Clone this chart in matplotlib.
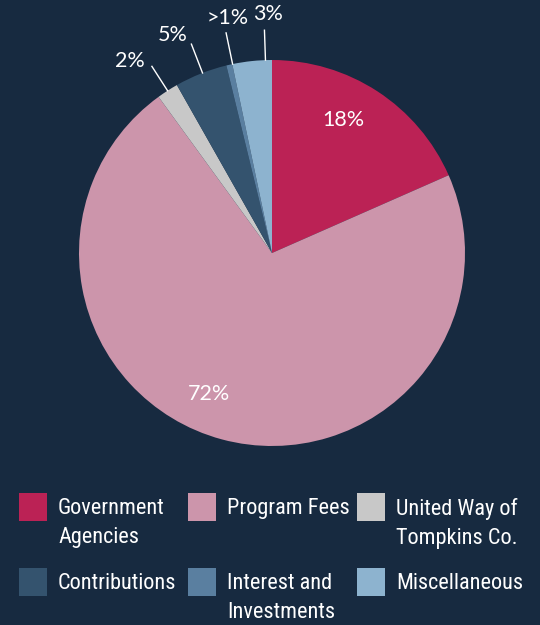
import matplotlib
matplotlib.use("Agg")
import matplotlib.pyplot as plt
from matplotlib.patches import Rectangle
import numpy as np

categories = ["Government\nAgencies", "Program Fees", "United Way of\nTompkins Co.",
              "Contributions", "Interest and\nInvestments", "Miscellaneous"]
values = [18.4, 71.6, 1.8, 4.4, 0.5, 3.3]
pct_labels = ["18%", "72%", "2%", "5%", ">1%", "3%"]
colors = ["#bb2255", "#cc95ab", "#c8c8c8", "#34536e", "#5a7fa0", "#8db3cf"]
bg = "#172a40"

plt.rcParams['font.family'] = ['Roboto Condensed', 'DejaVu Sans']
pct_font = ['Lato', 'DejaVu Sans']

W, H = 540, 625
fig = plt.figure(figsize=(W/100, H/100), dpi=100, facecolor=bg)

cx, cy, r = 272, 253, 193
ax = fig.add_axes([(cx - r)/W, 1 - (cy + r)/H, 2*r/W, 2*r/H])
ax.set_facecolor(bg)
wedges, _ = ax.pie(values, colors=colors, startangle=90, counterclock=False,
                   radius=1, wedgeprops=dict(linewidth=0))
ax.set_xlim(-1, 1); ax.set_ylim(-1, 1)
ax.set_aspect('equal')
ax.axis('off')

inner = {0: (0.78, 5), 1: (0.80, -9)}
for i, (dist, dang) in inner.items():
    w = wedges[i]
    ang = np.deg2rad((w.theta1 + w.theta2) / 2 + dang)
    ax.text(dist*np.cos(ang), dist*np.sin(ang), pct_labels[i], color="white",
            fontsize=15.5, ha="center", va="center", family=pct_font)

# outer labels: (line angle offset, line outer radius, text angle offset)
outer = {2: (0.0, 1.15, 3.7), 3: (-0.5, 1.16, 3.0), 4: (-1.0, 1.165, -2.0), 5: (-4.0, 1.155, -4.9)}
for i, (lda, lr, tda) in outer.items():
    w = wedges[i]
    mid = (w.theta1 + w.theta2) / 2
    a = np.deg2rad(mid + lda)
    ax.plot([np.cos(a), lr*np.cos(a)], [np.sin(a), lr*np.sin(a)], color="white",
            lw=1, clip_on=False)
    at = np.deg2rad(mid + tda)
    ax.text(1.24*np.cos(at), 1.24*np.sin(at), pct_labels[i], color="white",
            fontsize=15.5, ha="center", va="center", clip_on=False, family=pct_font)

col_x = [19, 188, 357]
row_y = [493, 568]
sw = 28
for i, (lab, c) in enumerate(zip(categories, colors)):
    x = col_x[i % 3]
    y = row_y[i // 3]
    fig.add_artist(Rectangle((x/W, 1 - (y + sw)/H), sw/W, sw/H, transform=fig.transFigure,
                             facecolor=c, edgecolor="none"))
    fig.text((x + 39)/W, 1 - (y + 5)/H, lab, color="white", fontsize=16,
             ha="left", va="top", linespacing=1.5)

fig.savefig("out.png", dpi=100, facecolor=bg)
